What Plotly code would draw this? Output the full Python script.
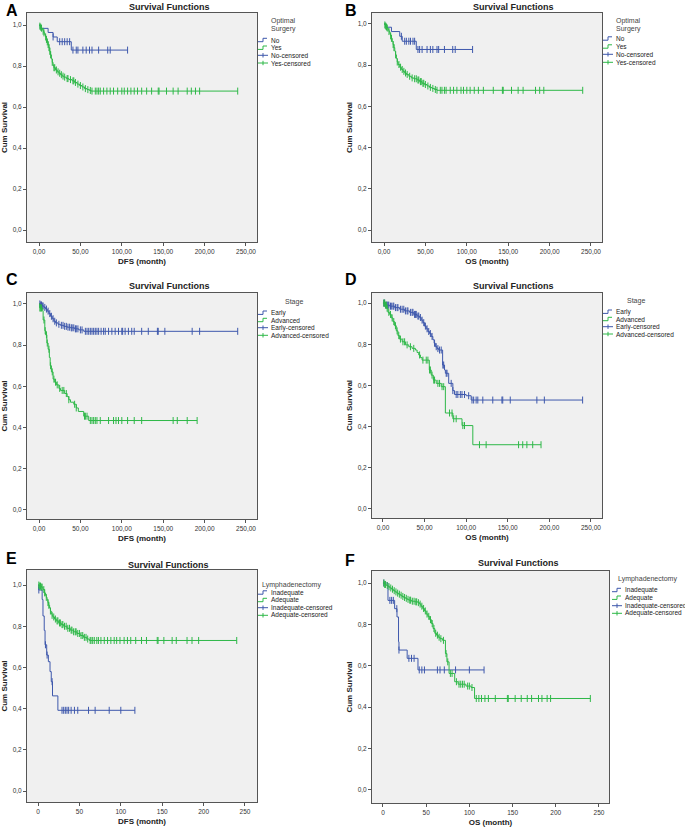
import numpy as np
import plotly.graph_objects as go

W, H = 685, 830
BLUE = '#3E58AC'
GREEN = '#2EB848'
FONT = 'Arial, Liberation Sans, sans-serif'

# ---------------- DATA ----------------
# Panel A (DFS, optimal surgery)
A_no_t = [0, 1.5, 11, 17, 22, 39]
A_no_s = [1.0, 0.984, 0.964, 0.942, 0.919, 0.878]
A_no_c = [17, 25, 28, 31, 34, 37, 41, 45, 47, 53, 57, 61, 64, 72, 83, 86, 107]
A_yes_t = [0, 1, 2, 3, 4, 5, 6, 7, 8, 9, 10, 11, 12, 13, 14, 15, 16, 17, 18, 20, 22, 24, 26, 28, 30, 33, 36, 40, 43, 46, 49, 52, 55, 58, 61, 63]
A_yes_s = [1.0, 0.995, 0.99, 0.985, 0.978, 0.97, 0.962, 0.952, 0.942, 0.93, 0.918, 0.905, 0.89, 0.872, 0.855, 0.835, 0.818, 0.803, 0.792, 0.781, 0.772, 0.765, 0.758, 0.751, 0.746, 0.739, 0.734, 0.728, 0.72, 0.712, 0.705, 0.698, 0.69, 0.685, 0.681, 0.678]
A_yes_c = [1, 2, 3, 5, 6, 8, 9, 10, 11, 12, 13, 14, 16, 18, 19, 21, 23, 25, 27, 29, 31, 34, 35, 38, 41, 42, 44, 47, 50, 53, 56, 59, 62,
           64, 68, 70, 72, 74, 78, 82, 86, 90, 95, 100, 103, 107, 111, 115, 119, 124, 130, 136, 144, 145, 154, 162, 168, 179, 184, 189, 194, 240]

# Panel B (OS, optimal surgery)
B_no_t = [0, 2, 9, 19, 22, 39]
B_no_s = [1.0, 0.984, 0.963, 0.94, 0.916, 0.876]
B_no_c = [21, 25, 27, 30, 32, 35, 37, 41, 43, 46, 52, 56, 59, 64, 66, 73, 83, 86, 107]
B_yes_t = [0, 1, 2, 3, 4, 5, 6, 7, 8, 9, 10, 11, 12, 13, 14, 15, 16, 17, 19, 21, 23, 25, 27, 30, 33, 36, 40, 43, 46, 49, 52, 55, 58, 61, 64]
B_yes_s = [1.0, 0.995, 0.99, 0.985, 0.98, 0.972, 0.963, 0.953, 0.942, 0.93, 0.915, 0.9, 0.885, 0.868, 0.85, 0.832, 0.815, 0.803, 0.79, 0.779, 0.77, 0.762, 0.755, 0.746, 0.738, 0.734, 0.728, 0.72, 0.712, 0.706, 0.699, 0.692, 0.687, 0.682, 0.678]
B_yes_c = [1, 2, 3, 4, 6, 8, 9, 11, 12, 14, 16, 18, 20, 22, 24, 26, 28, 31, 34, 37, 39, 41, 42, 44, 45, 47, 48, 50, 53, 56, 59, 62,
           64, 68, 70, 73, 75, 80, 84, 88, 93, 96, 100, 104, 109, 114, 120, 132, 143, 144, 154, 162, 168, 183, 188, 193, 240]

# Panel C (DFS, stage)
C_early_t = [0, 2, 4, 6, 8, 10, 12, 14, 16, 18, 20, 23, 26, 30, 34, 38, 43, 48, 54]
C_early_s = [1.0, 0.995, 0.99, 0.983, 0.975, 0.965, 0.953, 0.94, 0.928, 0.916, 0.908, 0.901, 0.896, 0.891, 0.887, 0.884, 0.879, 0.874, 0.867]
C_early_c = [1, 2, 3, 4, 5, 7, 9, 11, 13, 15, 17, 19, 21, 24, 27, 29, 31, 33, 35, 37, 39, 40, 42, 44, 45, 47, 50, 52, 56, 58, 60, 62,
             64, 66, 68, 70, 72, 75, 78, 80, 84, 88, 92, 96, 100, 101, 104, 108, 112, 115, 124, 132, 143, 144, 152, 185, 194, 240]
C_adv_t = [0, 1, 4.5, 5, 7, 8, 9.5, 11, 12.5, 13.5, 15, 17, 19, 21, 24, 26, 31, 34, 36, 38, 42, 45, 47.5, 54, 60]
C_adv_s = [1.0, 0.98, 0.965, 0.922, 0.87, 0.85, 0.81, 0.78, 0.74, 0.70, 0.67, 0.635, 0.62, 0.607, 0.59, 0.58, 0.565, 0.55, 0.535, 0.523, 0.513, 0.495, 0.478, 0.455, 0.434]
C_adv_c = [1, 2, 3, 6, 7.5, 9, 10, 12, 14, 16, 18, 20, 22, 25, 28, 30, 33, 36, 43, 45, 55, 56, 58,
           62, 64, 66, 68, 70, 74, 84, 90, 93, 96, 100, 107, 115, 124, 162, 167, 179, 191]

# Panel D (OS, stage)
D_early_t = [0, 3, 8, 14, 20, 26, 32, 37, 41, 44, 46, 48, 50, 52, 54, 56, 58, 60, 61.5, 63, 65, 67, 71.7, 74, 75, 79, 84, 86, 100, 106]
D_early_s = [1.0, 0.99, 0.985, 0.978, 0.97, 0.962, 0.955, 0.945, 0.937, 0.93, 0.917, 0.905, 0.888, 0.875, 0.862, 0.852, 0.838, 0.822, 0.805, 0.788, 0.779, 0.772, 0.699, 0.675, 0.659, 0.61, 0.575, 0.556, 0.55, 0.529]
D_early_c = [1, 2, 4, 5, 6, 7, 9, 10, 12, 13, 15, 17, 18, 21, 23, 25, 27, 29, 30, 33, 35, 36, 38, 39, 40, 42, 43, 45, 47, 49, 51,
             53, 55, 57, 59, 62, 64, 66, 68, 70, 72, 73, 76, 77, 82, 84, 88, 90, 93, 95, 98, 103, 107, 109, 112, 114, 120, 132,
             143, 144, 153, 185, 194, 240]
D_adv_t = [0, 3, 5, 6, 8, 10, 12, 14, 16, 18, 20, 23, 27, 31, 35, 39, 41, 43, 45, 47, 55.7, 58, 60.5, 64, 70, 75, 84, 95, 108]
D_adv_s = [1.0, 0.99, 0.975, 0.955, 0.945, 0.928, 0.91, 0.89, 0.865, 0.842, 0.825, 0.812, 0.797, 0.788, 0.78, 0.772, 0.76, 0.748, 0.735, 0.723, 0.675, 0.65, 0.626, 0.61, 0.594, 0.466, 0.438, 0.405, 0.312]
D_adv_c = [1, 2, 3, 4, 5, 7, 9, 11, 13, 15, 17, 19, 21, 24, 26, 29, 33, 37, 44, 48, 52, 54, 56, 57, 59, 61, 62, 66, 68, 71, 73,
           80, 83, 85, 88, 96, 98, 116, 124, 163, 168, 173, 180, 190]

# Panel E (DFS, lymphadenectomy)
E_inad_t = [0, 1, 5, 6, 7.5, 8.5, 10.5, 12.5, 14.5, 16, 17.5, 24]
E_inad_s = [1.0, 0.976, 0.93, 0.85, 0.78, 0.71, 0.66, 0.628, 0.58, 0.531, 0.462, 0.392]
E_inad_c = [1, 9, 11, 17, 29, 31, 33, 35, 37, 40, 44, 48, 61, 69, 86, 100, 117]
E_adeq_t = [0, 2, 4, 6, 8, 9, 10, 11, 12, 13, 14, 15, 16, 17, 18, 20, 22, 25, 28, 31, 35, 39, 43, 47, 51, 55, 59, 62]
E_adeq_s = [1.0, 0.995, 0.99, 0.978, 0.962, 0.95, 0.94, 0.928, 0.915, 0.902, 0.888, 0.874, 0.862, 0.853, 0.845, 0.835, 0.826, 0.816, 0.808, 0.8, 0.79, 0.781, 0.773, 0.765, 0.755, 0.746, 0.738, 0.731]
E_adeq_c = [1, 2, 3, 4, 5, 7, 8, 10, 12, 13, 15, 17, 19, 21, 23, 24, 26, 27, 29, 30, 32, 34, 36, 38, 40, 41, 43, 45, 46, 48, 50,
            52, 54, 56, 58, 60, 63, 64, 66, 68, 71, 73, 76, 80, 84, 88, 92, 95, 99, 104, 108, 112, 118, 125, 131, 144, 145,
            152, 162, 167, 180, 186, 194, 240]

# Panel F (OS, lymphadenectomy)
F_inad_t = [0, 5.8, 13.5, 16.2, 18, 18.5, 28, 40.5]
F_inad_s = [1.0, 0.916, 0.876, 0.836, 0.716, 0.676, 0.636, 0.58]
F_inad_c = [1, 8, 10, 12, 16, 18.5, 30, 33, 36, 42, 45, 48, 63, 66, 71, 84, 100, 117]
F_adeq_t = [0, 2, 4, 6, 8, 10, 12, 14, 16, 18, 20, 22, 24, 26, 28, 30, 33, 37, 40.5, 42.5, 44, 46, 48, 50, 52, 54, 56, 58, 60, 62, 64, 66, 69, 72.3, 74, 76.5, 83, 87, 96, 102, 106]
F_adeq_s = [1.0, 0.993, 0.988, 0.982, 0.976, 0.97, 0.963, 0.957, 0.951, 0.946, 0.941, 0.935, 0.93, 0.926, 0.921, 0.917, 0.912, 0.909, 0.905, 0.898, 0.888, 0.877, 0.865, 0.85, 0.839, 0.823, 0.804, 0.78, 0.757, 0.748, 0.738, 0.731, 0.723, 0.659, 0.619, 0.563, 0.523, 0.511, 0.502, 0.495, 0.442]
F_adeq_c = [1, 2, 3, 5, 7, 9, 11, 13, 15, 17, 19, 21, 23, 25, 27, 29, 31, 32, 34, 36, 38, 39, 41, 43, 45, 47, 49, 51, 53, 55,
            57, 59, 61, 63, 65, 67, 70, 73, 75, 78, 80, 85, 88, 90, 92, 94, 98, 100, 103, 108, 111, 114, 118, 122, 130, 144,
            145, 153, 160, 167, 172, 180, 184, 190, 194, 240]

PANEL_LETTERS = ['A', 'B', 'C', 'D', 'E', 'F']
X_TITLES = ['DFS (month)', 'OS (month)', 'DFS (month)', 'OS (month)', 'DFS (month)', 'OS (month)']
Y_TITLE = 'Cum Survival'
CHART_TITLE = 'Survival Functions'
LEG_TITLES = [['Optimal', 'Surgery'], ['Optimal', 'Surgery'], ['Stage'], ['Stage'], ['Lymphadenectomy'], ['Lymphadenectomy']]
LEG_LABELS = [['No', 'Yes', 'No-censored', 'Yes-censored'],
              ['No', 'Yes', 'No-censored', 'Yes-censored'],
              ['Early', 'Advanced', 'Early-censored', 'Advanced-censored'],
              ['Early', 'Advanced', 'Early-censored', 'Advanced-censored'],
              ['Inadequate', 'Adequate', 'Inadequate-censored', 'Adequate-censored'],
              ['Inadequate', 'Adequate', 'Inadequate-censored', 'Adequate-censored']]
Y_TICKS = [0, 0.2, 0.4, 0.6, 0.8, 1.0]
X_TICKS = [0, 50, 100, 150, 200, 250]

SERIES = [
    [(A_no_t, A_no_s, A_no_c), (A_yes_t, A_yes_s, A_yes_c)],
    [(B_no_t, B_no_s, B_no_c), (B_yes_t, B_yes_s, B_yes_c)],
    [(C_early_t, C_early_s, C_early_c), (C_adv_t, C_adv_s, C_adv_c)],
    [(D_early_t, D_early_s, D_early_c), (D_adv_t, D_adv_s, D_adv_c)],
    [(E_inad_t, E_inad_s, E_inad_c), (E_adeq_t, E_adeq_s, E_adeq_c)],
    [(F_inad_t, F_inad_s, F_inad_c), (F_adeq_t, F_adeq_s, F_adeq_c)],
]

# ---------------- LAYOUT (pixel geometry) ----------------
PANELS = [
    dict(box=(27, 257, 13, 242), xr=[-14.5, 263.3], yr=[-0.0585, 1.059], xfmt='.2f',
         letter=(4, 10), title=(169, 7), leg=dict(icon=258, tcx=283, ty=[21, 29], iy=[40, 47.7, 55.3, 63])),
    dict(box=(372, 602, 13, 242), xr=[-14.5, 263.3], yr=[-0.058, 1.053], xfmt='.2f',
         letter=(343, 10), title=(513, 7), leg=dict(icon=603, tcx=628, ty=[21, 28.5], iy=[38.5, 46.5, 54.3, 62.3])),
    dict(box=(27, 257, 293, 519), xr=[-14.5, 263.3], yr=[-0.044, 1.053], xfmt='.2f',
         letter=(4, 279), title=(169, 286), leg=dict(icon=258, tcx=294, ty=[301.7], iy=[312.7, 320, 327.7, 335.3])),
    dict(box=(372, 602, 293, 518), xr=[-13.2, 263.3], yr=[-0.044, 1.049], xfmt='.2f',
         letter=(343, 279), title=(513, 285.5), leg=dict(icon=603, tcx=636, ty=[300.7], iy=[311.7, 319, 326.7, 334])),
    dict(box=(27, 257, 570, 802), xr=[-13.3, 264.5], yr=[-0.053, 1.073], xfmt='d',
         letter=(4, 558), title=(168, 564.5), leg=dict(icon=258, tcx=291, ty=[584.5], iy=[592.5, 600, 607.7, 615.3])),
    dict(box=(372, 609, 571, 803), xr=[-12.7, 261.6], yr=[-0.063, 1.058], xfmt='d',
         letter=(343, 560), title=(518, 563), leg=dict(icon=612, tcx=647, ty=[579], iy=[590, 597.7, 605.7, 613.3])),
]


def px(x):
    return x / W


def py(y):
    return 1 - y / H


def surv_at(times, survs, t):
    idx = np.searchsorted(np.asarray(times), t, side='right') - 1
    return survs[max(idx, 0)]


fig = go.Figure()
annotations = []
shapes = []
colors = [BLUE, GREEN]

for i, (panel, series) in enumerate(zip(PANELS, SERIES)):
    n = '' if i == 0 else str(i + 1)
    xa, ya = 'x' + n, 'y' + n
    for (t, s, c), col in zip(series, colors):
        tend = max(max(c), max(t))
        fig.add_trace(go.Scatter(x=list(t) + [tend], y=list(s) + [s[-1]], mode='lines',
                                 line=dict(color=col, width=1, shape='hv'), xaxis=xa, yaxis=ya,
                                 showlegend=False, hoverinfo='skip'))
        fig.add_trace(go.Scatter(x=c, y=[surv_at(t, s, v) for v in c], mode='markers',
                                 marker=dict(symbol='line-ns', size=5, line=dict(color=col, width=1)),
                                 xaxis=xa, yaxis=ya, showlegend=False, hoverinfo='skip'))
    x0, x1, y0, y1 = panel['box']
    axis_common = dict(showline=True, mirror=True, linecolor='#555555', linewidth=1, ticks='outside',
                       ticklen=3, tickcolor='#555555', showgrid=False, zeroline=False,
                       tickfont=dict(family=FONT, size=6.5, color='#333333'))
    fig.layout['xaxis' + n] = dict(domain=[px(x0), px(x1)], anchor=ya, range=panel['xr'],
                                   tickvals=X_TICKS, tickformat=panel['xfmt'],
                                   title=dict(text='<b>' + X_TITLES[i] + '</b>', standoff=4,
                                              font=dict(family=FONT, size=8, color='#222222')),
                                   **axis_common)
    fig.layout['yaxis' + n] = dict(domain=[py(y1), py(y0)], anchor=xa, range=panel['yr'],
                                   tickvals=Y_TICKS, tickformat='.1f',
                                   title=dict(text='<b>' + Y_TITLE + '</b>', standoff=3,
                                              font=dict(family=FONT, size=8, color='#222222')),
                                   **axis_common)
    shapes.append(dict(type='rect', xref='paper', yref='paper', x0=px(x0), x1=px(x1), y0=py(y1), y1=py(y0),
                       fillcolor='#F0F0F0', line=dict(width=0), layer='below'))
    lx, ly = panel['letter']
    annotations.append(dict(text='<b>' + PANEL_LETTERS[i] + '</b>', x=px(lx), y=py(ly), xref='paper', yref='paper',
                            xanchor='left', yanchor='middle', showarrow=False,
                            font=dict(family=FONT, size=16, color='#000000')))
    tx, ty = panel['title']
    annotations.append(dict(text='<b>' + CHART_TITLE + '</b>', x=px(tx), y=py(ty), xref='paper', yref='paper',
                            xanchor='center', yanchor='middle', showarrow=False,
                            font=dict(family=FONT, size=9, color='#222222')))
    leg = panel['leg']
    for line_txt, ly_ in zip(LEG_TITLES[i], leg['ty']):
        annotations.append(dict(text=line_txt, x=px(leg['tcx']), y=py(ly_), xref='paper', yref='paper',
                                xanchor='center', yanchor='middle', showarrow=False,
                                font=dict(family=FONT, size=7, color='#444444')))
    ix = leg['icon']
    for k, (lab, iy) in enumerate(zip(LEG_LABELS[i], leg['iy'])):
        col = colors[k % 2]
        annotations.append(dict(text=lab, x=px(ix + 11), y=py(iy), xref='paper', yref='paper',
                                xanchor='left', yanchor='middle', showarrow=False,
                                font=dict(family=FONT, size=6.5, color='#222222')))
        if k < 2:
            path = 'M {a},{b} L {c},{b} L {c},{d} L {e},{d}'.format(
                a=px(ix), b=py(iy + 1.7), c=px(ix + 5), d=py(iy - 1.7), e=px(ix + 9))
            shapes.append(dict(type='path', xref='paper', yref='paper', path=path,
                               line=dict(color=col, width=1)))
        else:
            shapes.append(dict(type='line', xref='paper', yref='paper', x0=px(ix), x1=px(ix + 10),
                               y0=py(iy), y1=py(iy), line=dict(color=col, width=1)))
            shapes.append(dict(type='line', xref='paper', yref='paper', x0=px(ix + 5), x1=px(ix + 5),
                               y0=py(iy - 2.2), y1=py(iy + 2.2), line=dict(color=col, width=1)))

fig.update_layout(width=W, height=H, margin=dict(l=0, r=0, t=0, b=0, pad=0),
                  paper_bgcolor='white', plot_bgcolor='#F0F0F0', separators=',.',
                  annotations=annotations, shapes=shapes, showlegend=False,
                  font=dict(family=FONT))

fig.write_html('out.html', config={'displayModeBar': False, 'staticPlot': True},
               post_script="document.body.style.margin='0';document.body.style.overflow='hidden';")
